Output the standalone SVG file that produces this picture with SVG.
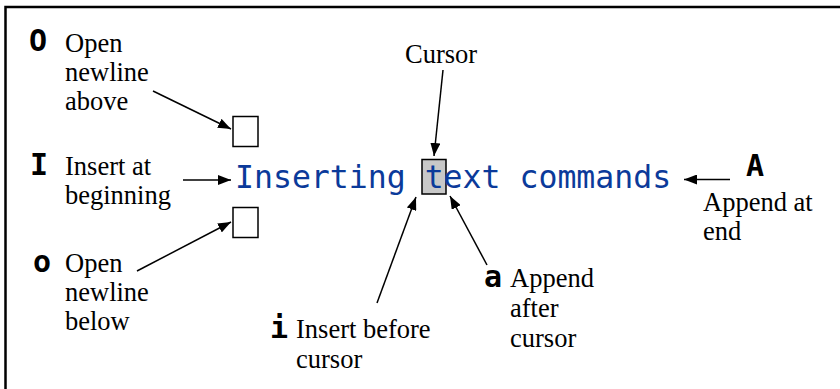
<svg xmlns="http://www.w3.org/2000/svg" width="840" height="389" viewBox="0 0 840 389">
<style>
.lbl{font-family:"Liberation Serif","Times New Roman",serif;font-size:26.5px;fill:#000}
.key{font-family:"DejaVu Sans Mono",monospace;font-weight:bold;font-size:30px;fill:#000}
.code{font-family:"DejaVu Sans Mono",monospace;font-size:31.5px;fill:#0b3a9a}
.conn line{stroke:#000;stroke-width:1.5;fill:none;marker-end:url(#ah)}
.box{fill:#fff;stroke:#000;stroke-width:1.5}
</style>
<defs>
<marker id="ah" markerUnits="userSpaceOnUse" markerWidth="14" markerHeight="10" refX="13" refY="5" orient="auto">
<path d="M0,0 L13,5 L0,10 Z" fill="#000"/>
</marker>
</defs>
<rect width="840" height="389" fill="#fff"/>
<path d="M5.5,400 V7 H850" fill="none" stroke="#000" stroke-width="2.5"/>

<g id="cursor-box"><rect x="422" y="159.5" width="24" height="34.5" fill="#c8c8c8" stroke="#000" stroke-width="1.5"/></g>
<g id="main-text"><text class="code" x="235" y="188">Inserting text commands</text></g>
<g id="box-above"><rect class="box" x="233" y="116.5" width="25" height="30"/></g>
<g id="box-below"><rect class="box" x="233" y="207.5" width="25" height="30"/></g>

<g id="node-O">
<text class="key" x="29" y="51">O</text>
<text class="lbl" x="65" y="52">Open</text>
<text class="lbl" x="65" y="81">newline</text>
<text class="lbl" x="65" y="110">above</text>
</g>
<g id="node-I">
<text class="key" x="30" y="175">I</text>
<text class="lbl" x="65" y="175">Insert at</text>
<text class="lbl" x="65" y="204">beginning</text>
</g>
<g id="node-o">
<text class="key" x="33" y="272">o</text>
<text class="lbl" x="65" y="272">Open</text>
<text class="lbl" x="65" y="301">newline</text>
<text class="lbl" x="65" y="330">below</text>
</g>
<g id="node-cursor">
<text class="lbl" x="405" y="63">Cursor</text>
</g>
<g id="node-i">
<text class="key" x="270" y="338">i</text>
<text class="lbl" x="296" y="338">Insert before</text>
<text class="lbl" x="296" y="368">cursor</text>
</g>
<g id="node-a">
<text class="key" x="484" y="287">a</text>
<text class="lbl" x="510" y="287">Append</text>
<text class="lbl" x="510" y="317">after</text>
<text class="lbl" x="510" y="347">cursor</text>
</g>
<g id="node-A">
<text class="key" x="746" y="176">A</text>
<text class="lbl" x="703" y="211">Append at</text>
<text class="lbl" x="703" y="240">end</text>
</g>

<g id="connectors" class="conn">
<line x1="153" y1="91" x2="231" y2="129"/>
<line x1="183" y1="180" x2="231" y2="180"/>
<line x1="137" y1="271" x2="231" y2="222"/>
<line x1="443" y1="70" x2="434" y2="156"/>
<line x1="377" y1="303" x2="416" y2="197"/>
<line x1="487" y1="265" x2="450" y2="196"/>
<line x1="730" y1="179.5" x2="684" y2="179.5"/>
</g>
</svg>
